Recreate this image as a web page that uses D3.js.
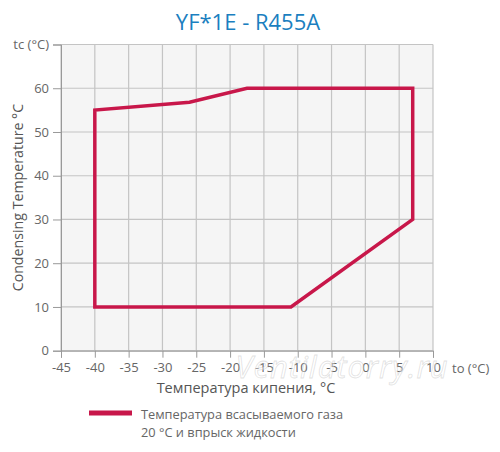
<!DOCTYPE html>
<html>
<head>
<meta charset="utf-8">
<script src="https://cdn.jsdelivr.net/npm/d3@7"></script>
<style>
  html, body { margin: 0; padding: 0; background: #fff; }
  svg { display: block; font-family: "Open Sans", "Noto Sans", sans-serif; }
</style>
</head>
<body>
<svg id="chart" width="500" height="452"></svg>
<script>
// ---- data ----
const title = "YF*1E - R455A";
const envelopeTo = [-40, -40, -26, -17.5, 7, 7, -11];
const envelopeTc = [10, 55, 56.8, 60, 60, 30, 10];
const xTicks = [-45, -40, -35, -30, -25, -20, -15, -10, -5, 0, 5, 10];
const yTicks = [0, 10, 20, 30, 40, 50, 60, 70];
const xUnitLabel = "to (°C)";
const yUnitLabel = "tc (°C)";
const xTitle = "Температура кипения, °C";
const yTitle = "Condensing Temperature °C";
const legendLines = ["Температура всасываемого газа", "20 °C и впрыск жидкости"];
const watermark = "Ventilatorry.ru";

// ---- layout ----
const svg = d3.select("#chart");
const L = 61, R = 433, T = 44.5, B = 350.7;
const lineColor = "#c8174a";
const textColor = "#666";

const x = d3.scaleLinear().domain([-45, 10]).range([L, R]);
const y = d3.scaleLinear().domain([0, 70]).range([B, T]);

// plot background
svg.append("rect").attr("x", L).attr("y", T).attr("width", R - L).attr("height", B - T)
  .attr("fill", "#f5f5f5");

// gridlines
svg.append("g").selectAll("line").data(xTicks).join("line")
  .attr("x1", d => x(d)).attr("x2", d => x(d)).attr("y1", T).attr("y2", B)
  .attr("stroke", "#c4c4c4").attr("stroke-width", 1.2);
svg.append("g").selectAll("line").data(yTicks).join("line")
  .attr("x1", L).attr("x2", R).attr("y1", d => y(d)).attr("y2", d => y(d))
  .attr("stroke", "#c4c4c4").attr("stroke-width", 1.2);

// axes
const yAxis = d3.axisLeft(y).tickValues(yTicks).tickSize(8).tickPadding(4)
  .tickFormat(d => d === 70 ? yUnitLabel : d);
const gy = svg.append("g").attr("transform", `translate(${L},0)`).call(yAxis);
gy.select(".domain").attr("stroke", "#999");
gy.selectAll(".tick line").attr("stroke", "#999");
gy.selectAll(".tick text").attr("fill", textColor).attr("font-size", 13)
  .attr("font-family", "'Open Sans', sans-serif");

const xAxis = d3.axisBottom(x).tickValues(xTicks).tickSize(7).tickPadding(5)
  .tickFormat(d => d);
const gx = svg.append("g").attr("transform", `translate(0,${B})`).call(xAxis);
gx.select(".domain").attr("stroke", "#999");
gx.selectAll(".tick line").attr("stroke", "#999");
gx.selectAll(".tick text").attr("fill", textColor).attr("font-size", 13)
  .attr("font-family", "'Open Sans', sans-serif");

svg.append("text").attr("x", 452).attr("y", B + 22).attr("fill", textColor)
  .attr("font-size", 13).text(xUnitLabel);

// envelope
const pts = envelopeTo.map((v, i) => [v, envelopeTc[i]]);
const line = d3.line().x(d => x(d[0])).y(d => y(d[1])).curve(d3.curveLinearClosed);
svg.append("path").datum(pts).attr("d", line)
  .attr("fill", "none").attr("stroke", lineColor).attr("stroke-width", 3.5)
  .attr("stroke-linejoin", "miter");

// title
svg.append("text").attr("x", 248).attr("y", 30).attr("text-anchor", "middle")
  .attr("fill", "#1b7fc0").attr("font-size", 22).text(title);

// axis titles
svg.append("text").attr("x", 246).attr("y", 393).attr("text-anchor", "middle")
  .attr("fill", "#555").attr("font-size", 14.5).text(xTitle);
svg.append("text").attr("transform", `translate(23,${(T + B) / 2 }) rotate(-90)`)
  .attr("text-anchor", "middle").attr("fill", "#555").attr("font-size", 14.2).text(yTitle);

// watermark
svg.append("text").attr("x", 342).attr("y", 378).attr("text-anchor", "middle")
  .attr("font-size", 31).attr("font-style", "italic").attr("fill", "#fff")
  .attr("fill-opacity", 0.4).attr("stroke", "#bbb").attr("stroke-opacity", 0.45)
  .attr("stroke-width", 0.8).attr("letter-spacing", 1).text(watermark);

// legend
svg.append("line").attr("x1", 89).attr("x2", 132).attr("y1", 413).attr("y2", 413)
  .attr("stroke", lineColor).attr("stroke-width", 5);
svg.append("g").selectAll("text").data(legendLines).join("text")
  .attr("x", 141).attr("y", (d, i) => 419 + i * 18)
  .attr("fill", textColor).attr("font-size", 12.8).text(d => d);
</script>
</body>
</html>
